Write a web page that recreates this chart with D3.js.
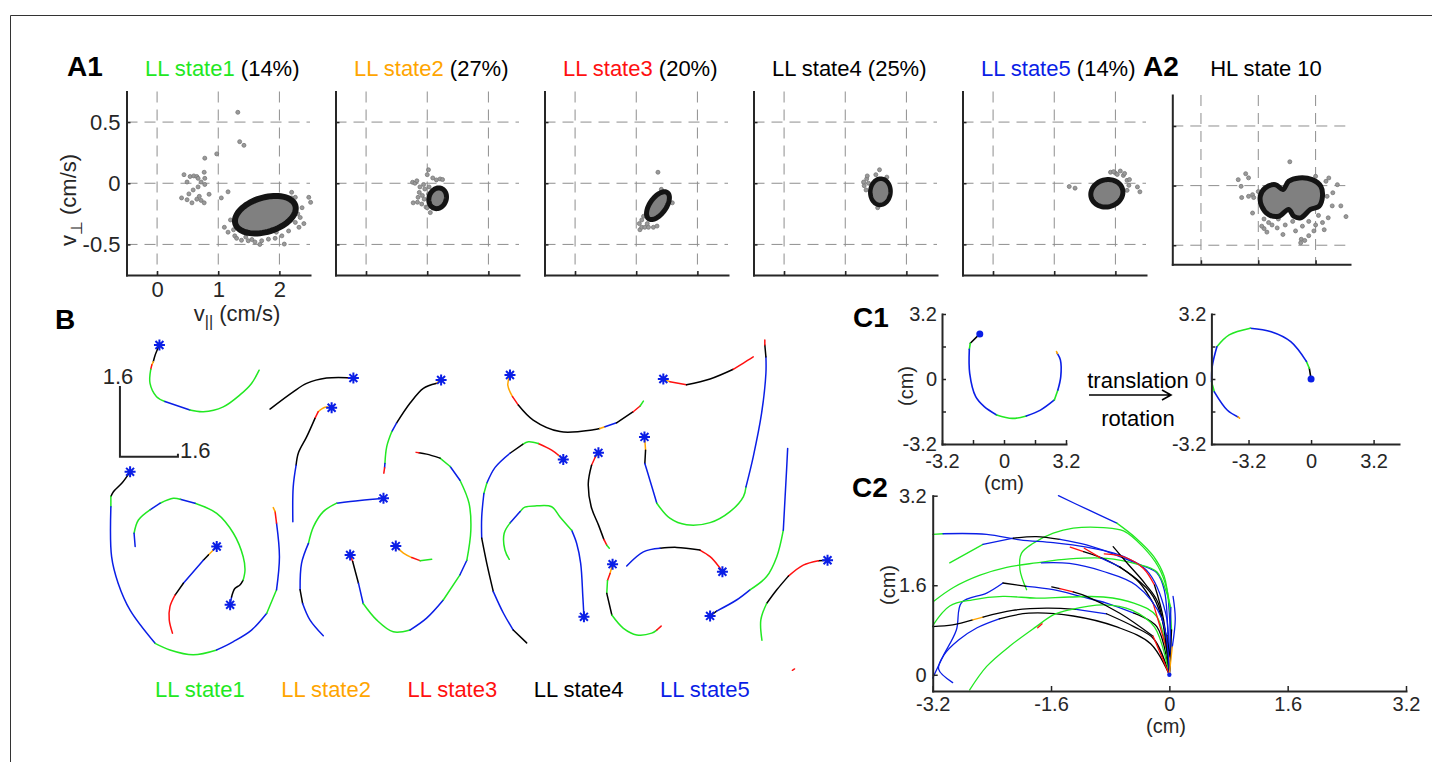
<!DOCTYPE html>
<html>
<head>
<meta charset="utf-8">
<script src="https://cdn.jsdelivr.net/npm/d3@7"></script>
<style>
  body { margin: 0; background: #fff; }
</style>
</head>
<body>
<svg id="chart" width="1432" height="762"></svg>
<script>
// ---------- data ----------
const STATES = ['LL state1', 'LL state2', 'LL state3', 'LL state4', 'LL state5'];
const STATE_PCT = [14, 27, 20, 25, 14];
const HL_TITLE = 'HL state 10';

const A_TICKS_X = [0, 1, 2];
const A_TICKS_Y = [-0.5, 0, 0.5];
const C1_TICKS = [-3.2, -1.6, 0, 1.6, 3.2];
const C1_LABELS = [-3.2, 0, 3.2];
const C2_TICKS_X = [-3.2, -1.6, 0, 1.6, 3.2];
const C2_TICKS_Y = [0, 1.6, 3.2];
const SCALE_BAR = 1.6;

// velocity scatter per LL state (v_par, v_perp in cm/s)
const s1Pts = [[1.32,0.58],[1.35,0.34],[1.42,0.31],[0.975,0.24],[0.78,0.205],[0.44,0.07],[0.54,0.055],[0.60,0.06],[0.65,0.055],[0.49,0.01],[0.67,0.04],[0.77,0.09],[0.78,0.04],[0.72,0.01],[0.78,-0.01],[0.85,-0.09],[0.67,-0.03],[0.59,-0.055],[0.52,-0.087],[0.40,-0.12],[0.49,-0.135],[0.57,-0.16],[0.65,-0.13],[0.69,-0.107],[0.72,-0.14],[0.77,-0.16],[1.05,-0.12],[1.16,-0.07],
  [1.10,-0.36],[1.16,-0.40],[1.27,-0.43],[1.38,-0.466],[1.49,-0.47],[1.60,-0.48],[1.71,-0.47],[1.82,-0.457],[1.93,-0.45],[2.04,-0.43],[2.15,-0.39],[2.26,-0.32],[2.34,-0.28],[2.37,-0.20],[2.48,-0.115],[2.51,-0.156],[2.40,-0.33],[2.32,-0.36],[2.26,-0.115],[2.20,-0.074],[2.08,-0.497],[1.68,-0.50],[1.20,-0.30],[1.25,-0.38],[1.45,-0.44],[1.95,-0.40],[2.30,-0.25],[2.20,-0.12],[1.30,-0.45],[1.55,-0.46]];
const s2Pts = [[1.02,0.11],[1.0,0.07],[0.76,0.008],[0.80,0.0],[0.83,0.02],[0.88,-0.03],[0.94,-0.01],[0.87,-0.075],[0.85,-0.115],[0.77,-0.16],[0.84,-0.155],[0.91,-0.17],[0.98,-0.195],[1.05,-0.24],[1.09,0.043],[1.15,0.027],[1.21,0.035],[1.25,0.03],[0.96,-0.047],[1.02,-0.088],[0.95,-0.13],[1.0,-0.2],[0.92,-0.1],[1.03,-0.03]];
const s3Pts = [[1.355,0.09],[1.06,-0.38],[1.09,-0.36],[1.14,-0.36],[1.20,-0.36],[1.28,-0.36],[1.34,-0.35],[1.09,-0.30],[1.12,-0.27],[1.41,-0.05],[1.45,-0.12],[1.59,-0.16],[1.18,-0.33],[1.05,-0.33]];
const s4Pts = [[1.56,0.11],[1.35,0.036],[1.31,-0.02],[1.34,-0.055],[1.30,0.01],[1.36,0.06],[1.53,-0.2],[1.68,0.05],[1.38,0.0],[1.50,0.07]];
const s5Pts = [[1.245,-0.027],[1.34,-0.04],[1.92,0.09],[2.0,0.083],[2.08,0.1],[2.13,0.064],[2.19,0.024],[2.22,-0.017],[2.19,-0.058],[2.03,0.072],[2.36,-0.03],[2.40,-0.07],[2.15,0.08],[2.23,0.03],[1.97,0.095]];
const hlPts = [[1.55,0.2],[0.78,0.1],[0.83,0.065],[0.65,0.05],[0.70,-0.006],[0.90,-0.076],[0.83,-0.09],[0.92,-0.1],[0.71,-0.1],[0.90,-0.23],[1.10,-0.36],[1.15,-0.39],[1.24,-0.33],[1.43,-0.41],[1.65,-0.38],[1.75,-0.45],[1.74,-0.48],[1.81,-0.46],[1.88,-0.42],[1.97,-0.38],[2.15,-0.37],[2.12,-0.31],[2.22,-0.27],[2.29,-0.17],[2.38,0.008],[2.23,0.064],[2.20,-0.09],[2.53,-0.26],[2.44,-0.17],[2.30,-0.06],[2.0,0.078],[2.18,0.036],[1.06,-0.34],[1.18,-0.31],[1.33,-0.355],[1.47,-0.33],[1.77,-0.34],[1.88,-0.3],[2.0,-0.33],[1.0,-0.05],[1.1,-0.28],[1.6,-0.3],[2.05,-0.25],[1.35,-0.28]];

// Gaussian ellipse of each LL state: centre, major and minor half-axis vectors
const ellC = [[1.77,-0.257],[1.17,-0.123],[1.355,-0.183],[1.575,-0.07],[1.86,-0.082]];
const ellU = [[0.49,0.075],[0.059,0.081],[0.152,0.107],[0.017,0.107],[0.256,0.034]];
const ellV = [[0.083,-0.134],[0.132,-0.024],[0.109,-0.038],[0.165,-0.007],[0.058,-0.107]];
// contour of HL state 10
const hlBlob = [[1.035,-0.09],[1.12,-0.02],[1.30,0.008],[1.43,-0.033],[1.53,0.036],[1.71,0.064],[1.94,0.05],[2.09,-0.006],[2.12,-0.09],[2.06,-0.173],[1.91,-0.2],[1.74,-0.27],[1.62,-0.257],[1.53,-0.2],[1.36,-0.257],[1.18,-0.243],[1.06,-0.173]];

// B: trajectories in cm, [x, y, state of segment starting here]; first point = start (*)
const bTraj = [
  [[1.64,7.58,4],[1.52,7.35,4],[1.47,7.20,2],[1.43,7.13,3],[1.40,7.03,1],[1.38,6.71,1],[1.56,6.41,1],[1.79,6.30,5],[2.48,6.11,1],[2.85,6.07,1],[3.40,6.18,1],[3.86,6.45,1],[4.18,6.71,1],[4.39,7.01,1]],
  [[6.99,6.83,3],[6.82,6.84,4],[6.25,6.83,4],[5.70,6.71,4],[5.33,6.52,4],[4.69,6.13,4]],
  [[6.39,6.16,2],[6.21,6.17,2],[6.02,6.07,3],[5.93,5.92,4],[5.70,5.50,4],[5.47,5.13,4],[5.41,4.86,5],[5.33,4.37,5],[5.32,3.58,5]],
  [[9.41,6.79,2],[9.27,6.71,4],[8.92,6.60,4],[8.55,6.26,4],[8.18,5.81,5],[8.05,5.62,1],[7.91,5.28,1],[7.86,4.90,5],[7.85,4.80,3],[7.83,4.68,3]],
  [[0.83,4.71,4],[0.60,4.45,4],[0.37,4.26,4],[0.30,4.15,1],[0.30,3.92,5],[0.32,2.79,5],[0.50,2.19,5],[0.83,1.58,5],[1.52,0.83,1],[1.93,0.68,1],[2.57,0.57,1],[3.22,0.68,5],[3.68,0.87,5],[4.18,1.13,5],[4.60,1.51,1],[4.87,2.04,5],[4.95,2.79,5],[4.87,3.55,3],[4.83,3.81,2],[4.78,3.90,2]],
  [[3.59,1.70,5],[3.63,1.88,4],[3.72,2.07,4],[3.86,2.15,4],[3.95,2.26,1],[4.0,2.49,1],[3.95,2.79,1],[3.68,3.32,1],[3.22,3.77,1],[2.62,4.0,5],[2.21,4.09,1],[2.02,4.11,1],[1.66,4.0,5],[1.38,3.85,1],[1.06,3.62,1],[0.94,3.32,5],[0.97,3.02,5]],
  [[3.22,3.02,2],[2.99,2.83,4],[2.85,2.71,5],[2.30,2.19,4],[2.07,1.92,3],[1.93,1.66,3],[1.91,1.36,3],[2.0,1.06,3]],
  [[7.82,4.11,5],[7.17,4.06,5],[6.53,4.0,1],[6.16,3.81,1],[5.89,3.47,1],[5.75,3.09,5],[5.56,2.64,5],[5.52,2.04,4],[5.59,1.73,5],[5.79,1.36,5],[6.16,1.0,5]],
  [[6.90,2.83,3],[6.97,2.68,4],[7.13,2.19,5],[7.26,1.73,1],[7.63,1.36,1],[8.09,1.09,1],[8.55,1.13,5],[9.01,1.40,5],[9.47,1.81,1],[9.93,2.38,5],[10.12,2.71,1],[10.23,3.39,1],[10.18,4.0,1],[9.93,4.52,5],[9.66,4.83,1],[9.38,5.02,4],[9.01,5.11,4],[8.80,5.14,3],[8.72,5.15,3]],
  [[8.16,3.03,2],[8.37,2.87,2],[8.60,2.77,3],[8.83,2.70,1],[9.15,2.73,1]],
  [[11.31,6.90,2],[11.25,6.67,2],[11.38,6.41,3],[11.54,6.22,4],[11.95,5.88,4],[12.69,5.62,4],[13.61,5.66,4],[13.79,5.69,2],[13.93,5.73,5],[14.25,5.82,4],[14.71,6.07,3],[14.90,6.20,1],[14.99,6.31,1]],
  [[15.54,6.81,2],[15.72,6.75,3],[16.18,6.68,4],[16.83,6.81,4],[17.47,7.03,3],[17.75,7.17,3],[18.02,7.31,3]],
  [[15.02,5.50,2],[15.04,5.32,2],[15.05,5.20,4],[15.03,4.90,5],[15.17,4.52,5],[15.36,4.0,1],[15.72,3.66,1],[16.18,3.51,1],[16.83,3.56,1],[17.38,3.81,1],[17.75,4.15,1],[17.82,4.37,5],[18.02,5.05,5],[18.25,6.03,5],[18.37,6.94,5],[18.37,7.31,4],[18.34,7.58,3],[18.34,7.69,3]],
  [[12.78,4.99,2],[12.64,5.09,3],[12.46,5.20,3],[12.09,5.35,1],[11.82,5.39,1],[11.66,5.33,4],[11.31,5.13,5],[10.90,4.81,5],[10.67,4.45,1],[10.59,4.22,5],[10.53,3.69,5],[10.53,3.21,4],[10.67,2.64,4],[10.85,2.0,5],[11.13,1.51,5],[11.40,1.13,4],[11.77,0.84,4]],
  [[13.35,1.43,5],[13.32,1.88,5],[13.26,2.64,5],[13.15,3.09,5],[13.01,3.39,1],[12.69,3.69,1],[12.46,3.92,1],[12.05,3.94,1],[11.72,3.91,1],[11.59,3.81,5],[11.31,3.55,1],[11.15,3.32,1],[11.17,2.94,1],[11.29,2.73,1]],
  [[13.75,5.14,2],[13.66,5.04,3],[13.56,4.86,4],[13.47,4.45,4],[13.55,3.92,4],[13.75,3.51,4],[13.90,3.18,3],[13.98,3.05,1],[14.05,2.98,1]],
  [[14.14,2.62,2],[14.07,2.41,3],[14.00,2.25,1],[13.98,1.96,4],[14.12,1.47,1],[14.44,1.17,1],[14.81,1.02,1],[15.22,1.06,1],[15.36,1.13,3],[15.48,1.22,3]],
  [[17.17,2.45,3],[17.06,2.58,3],[16.83,2.79,3],[16.55,2.94,4],[15.91,3.0,4],[15.45,2.98,5],[14.99,2.90,5],[14.53,2.58,5]],
  [[16.83,1.45,4],[17.01,1.56,5],[17.56,1.81,5],[17.93,2.04,1],[18.39,2.34,1],[18.67,2.79,1],[18.85,3.39,5],[18.90,4.15,5],[18.94,4.75,5],[18.97,5.24,5]],
  [[20.07,2.71,4],[19.82,2.70,3],[19.40,2.60,3],[18.99,2.35,4],[18.67,2.04,4],[18.39,1.73,1],[18.23,1.36,1],[18.26,0.90,1]]
];
const bStray = [[19.10,0.22,3],[19.16,0.25,3]];

// C1: one trajectory before and after translation + rotation (cm)
const c1Before = [[-1.25,2.22,4],[-1.74,1.76,1],[-1.79,1.46,5],[-1.77,0.28,5],[-1.46,-0.87,5],[-1.02,-1.36,5],[-0.38,-1.77,1],[0.43,-1.94,1],[1.15,-1.82,5],[1.88,-1.53,5],[2.60,-1.03,1],[2.78,-0.54,5],[2.93,0.12,5],[2.91,0.94,5],[2.75,1.26,2],[2.71,1.35,2]];
const c1After = [[0,0,4],[-0.09,0.53,1],[-0.24,0.87,5],[-1.04,1.84,5],[-2.04,2.33,5],[-3.11,2.50,1],[-4.19,2.17,1],[-4.82,1.59,5],[-5.06,0.61,5],[-5.09,-0.14,1],[-4.95,-0.63,5],[-4.28,-1.54,5],[-3.74,-1.87,2],[-3.66,-1.93,2]];

// C2: all aligned trajectories, ending at the origin (cm)
const c2Traj = [
  [[-1.50,3.20,5],[-1.10,2.95,5],[-0.71,2.71,1],[-0.45,2.44,1],[-0.21,2.11,1],[-0.07,1.76,1],[-0.01,1.28,5],[0.02,0.5,5],[0,0,5]],
  [[-1.93,1.52,1],[-2.02,1.88,1],[-2.0,2.17,1],[-1.84,2.35,1],[-1.57,2.53,1],[-1.30,2.62,1],[-0.89,2.63,1],[-0.62,2.57,1],[-0.36,2.29,1],[-0.15,1.93,1],[-0.03,1.51,1],[0.03,0.8,4],[0,0,4]],
  [[-3.20,2.51,1],[-3.06,2.52,5],[-2.47,2.51,5],[-2.02,2.41,5],[-1.57,2.36,5],[-1.12,2.28,5],[-0.67,2.14,5],[-0.40,1.97,5],[-0.17,1.82,5],[-0.07,1.52,5],[-0.02,0.7,4],[0,0,4]],
  [[-2.97,2.0,1],[-2.52,2.33,5],[-2.11,2.44,4],[-1.80,2.47,4],[-1.48,2.42,5],[-1.12,2.32,5],[-0.67,2.11,5],[-0.31,1.87,5],[-0.05,1.1,5],[0,0,5]],
  [[-3.19,1.31,1],[-2.92,1.56,1],[-2.56,1.78,1],[-2.20,1.92,1],[-1.80,2.0,1],[-1.35,2.07,1],[-0.85,2.08,1],[-0.45,1.98,1],[-0.17,1.84,1],[0.02,1.2,5],[0,0,5]],
  [[-3.2,-0.06,5],[-3.06,0.33,5],[-2.88,0.8,5],[-2.81,1.29,5],[-2.47,1.46,5],[-2.25,1.64,4],[-1.93,1.58,5],[-1.57,1.52,5],[-1.20,1.40,5],[-0.85,1.28,5],[-0.48,1.10,4],[-0.17,0.86,4],[0,0,4]],
  [[-3.20,0.88,1],[-2.97,1.23,1],[-2.66,1.34,1],[-2.25,1.40,1],[-1.80,1.37,1],[-1.35,1.39,1],[-0.89,1.39,1],[-0.48,1.28,1],[-0.17,1.04,1],[0,0,1]],
  [[-3.20,0.86,4],[-2.93,0.89,4],[-2.66,0.98,2],[-2.52,1.03,4],[-2.12,1.15,4],[-1.66,1.19,4],[-1.26,1.17,5],[-0.85,1.09,4],[-0.48,0.86,4],[-0.21,0.64,4],[0,0,4]],
  [[-2.93,-0.14,5],[-3.12,0.1,5],[-3.05,0.35,5],[-2.85,0.62,5],[-2.6,0.84,5],[-2.3,1.0,4],[-1.9,1.1,4],[-1.3,1.05,4],[-0.7,0.85,4],[-0.25,0.55,4],[0,0,4]],
  [[-2.70,-0.27,1],[-2.47,0.15,1],[-2.16,0.51,1],[-1.80,0.86,1],[-1.57,1.07,1],[-1.35,1.16,1],[-0.89,1.25,1],[-0.50,1.15,1],[-0.2,0.85,1],[0,0,1]],
  [[-1.34,2.28,3],[-1.16,2.20,4],[-0.85,2.05,4],[-0.49,1.76,4],[-0.22,1.40,4],[0,0.4,4],[0,0,4]],
  [[-1.15,2.26,3],[-0.93,2.09,5],[-0.67,1.93,4],[-0.40,1.64,4],[-0.22,1.28,3],[0,0.3,2],[0,0,2]],
  [[-0.76,2.29,4],[-0.56,1.98,4],[-0.33,1.63,4],[-0.15,1.28,4],[0,0,4]],
  [[-0.88,2.16,3],[-0.6,2.1,3],[-0.35,1.9,3],[-0.2,1.6,4],[-0.08,1.0,4],[0,0,4]],
  [[-1.59,1.57,4],[-1.48,1.54,3],[-1.30,1.48,4],[-1.12,1.40,4],[-0.67,1.10,4],[-0.22,0.69,3],[0,0,3]],
  [[-1.73,2.0,5],[-1.35,1.99,5],[-0.9,1.85,5],[-0.45,1.6,5],[-0.1,1.0,5],[0,0,5]],
  [[-1.78,0.84,3],[-1.72,0.91,3]],
  [[0.05,1.4,5],[0.08,1.0,5],[0.04,0.5,2],[0,0,2]]
];

// ---------- style ----------
const FONT = '"Liberation Sans", Arial, Helvetica, sans-serif';
const INK = '#262626';
const stateColor = ['#22e822', '#ffa500', '#ff1010', '#000000', '#0a1ee6'];
const colorOf = s => stateColor[s - 1];

const svg = d3.select('#chart');

// outer frame (top and left edge)
svg.append('path').attr('d', 'M10.5,762V15.5H1432')
  .attr('fill', 'none').attr('stroke', '#333').attr('stroke-width', 1);

// ---------- helpers ----------
function addAxes(x, y, o) {
  const fmt = list => d => (list && list.includes(d) ? String(d) : '');
  const gx = svg.append('g').attr('transform', `translate(0,${y.range()[0]})`)
    .call(d3.axisBottom(x).tickValues(o.xt).tickSize(-o.ts).tickSizeOuter(0).tickPadding(o.px).tickFormat(fmt(o.xl)));
  const gy = svg.append('g').attr('transform', `translate(${x.range()[0]},0)`)
    .call(d3.axisLeft(y).tickValues(o.yt).tickSize(-o.ts).tickSizeOuter(0).tickPadding(o.py).tickFormat(fmt(o.yl)));
  [gx, gy].forEach(g => {
    g.attr('font-family', FONT).attr('font-size', o.fs);
    g.select('.domain').attr('stroke', INK).attr('stroke-width', 2).attr('stroke-linecap', 'square');
    g.selectAll('.tick line').attr('stroke', INK).attr('stroke-width', 1.5);
    g.selectAll('.tick text').attr('fill', INK);
  });
}

function drawRuns(g, x, y, pts, w) {
  // split a trajectory into same-state runs that share their end points
  const runs = [];
  for (let i = 0; i < pts.length - 1; i++) {
    const last = runs[runs.length - 1];
    if (last && last.s === pts[i][2]) last.pts.push(pts[i + 1]);
    else runs.push({ s: pts[i][2], pts: [pts[i], pts[i + 1]] });
  }
  const line = d3.line().x(d => x(d[0])).y(d => y(d[1])).curve(d3.curveCatmullRom.alpha(0.5));
  g.selectAll(null).data(runs).enter().append('path')
    .attr('d', r => line(r.pts))
    .attr('fill', 'none')
    .attr('stroke', r => colorOf(r.s))
    .attr('stroke-width', w)
    .attr('stroke-linecap', 'round')
    .attr('stroke-linejoin', 'round');
}

function label(txt, x, y, size, opts = {}) {
  return svg.append('text').attr('x', x).attr('y', y)
    .attr('font-family', FONT).attr('font-size', size)
    .attr('font-weight', opts.bold ? 'bold' : null)
    .attr('text-anchor', opts.anchor || 'start')
    .attr('fill', opts.fill || '#000')
    .text(txt);
}

// ---------- A1 / A2 : velocity scatter panels ----------
const A_DOM_X = [-0.5, 2.5], A_DOM_Y = [-0.75, 0.75];
const aLeft = d3.scaleLinear().domain([0, 4]).range([126.5, 962.5]);
const aWidth = 183.5, aTop = 91.5, aBottom = 275;
const scatter = [s1Pts, s2Pts, s3Pts, s4Pts, s5Pts];
const ringW = [6, 5, 5, 4.5, 5];

function scatterPanel(x, y, pts, shapeD, rw, withLabels) {
  const g = svg.append('g');
  // dashed grid
  g.selectAll(null).data(A_TICKS_X).enter().append('line')
    .attr('x1', d => x(d)).attr('x2', d => x(d))
    .attr('y1', y.range()[1]).attr('y2', y.range()[0]);
  g.selectAll(null).data(A_TICKS_Y).enter().append('line')
    .attr('y1', d => y(d)).attr('y2', d => y(d))
    .attr('x1', x.range()[0]).attr('x2', x.range()[1]);
  g.selectAll('line').attr('stroke', '#8e8e8e').attr('stroke-width', 1).attr('stroke-dasharray', '11,7');
  // points
  g.selectAll(null).data(pts).enter().append('circle')
    .attr('cx', d => x(d[0])).attr('cy', d => y(d[1])).attr('r', 2)
    .attr('fill', '#9a9a9a').attr('stroke', '#777').attr('stroke-width', 0.8);
  // state contour
  g.append('path').attr('d', shapeD)
    .attr('fill', '#808080').attr('stroke', '#141414').attr('stroke-width', rw);
  addAxes(x, y, {
    xt: A_TICKS_X, yt: A_TICKS_Y, ts: 4, px: 6, py: 6, fs: 22,
    xl: withLabels ? A_TICKS_X : null, yl: withLabels ? A_TICKS_Y : null
  });
}

STATES.forEach((name, i) => {
  const x = d3.scaleLinear().domain(A_DOM_X).range([aLeft(i), aLeft(i) + aWidth]);
  const y = d3.scaleLinear().domain(A_DOM_Y).range([aBottom, aTop]);
  const c = ellC[i], u = ellU[i], v = ellV[i];
  const ring = d3.range(0, 73).map(k => {
    const t = k / 72 * 2 * Math.PI;
    return [x(c[0] + Math.cos(t) * u[0] + Math.sin(t) * v[0]), y(c[1] + Math.cos(t) * u[1] + Math.sin(t) * v[1])];
  });
  scatterPanel(x, y, scatter[i], d3.line()(ring) + 'Z', ringW[i], i === 0);

  const t = svg.append('text').attr('x', aLeft(i) + aWidth / 2 + 4).attr('y', 76)
    .attr('text-anchor', 'middle').attr('font-family', FONT).attr('font-size', 22);
  t.append('tspan').attr('fill', colorOf(i + 1)).text(name);
  t.append('tspan').attr('fill', '#000').text(` (${STATE_PCT[i]}%)`);
});

// A2 (HL state)
{
  const x = d3.scaleLinear().domain([-0.5, 2.6]).range([1172.3, 1350]);
  const y = d3.scaleLinear().domain([-0.66, 0.76]).range([264.3, 95]);
  const blob = d3.line().x(d => x(d[0])).y(d => y(d[1])).curve(d3.curveCatmullRomClosed)(hlBlob);
  scatterPanel(x, y, hlPts, blob, 5, false);
  label(HL_TITLE, 1266, 76, 22, { anchor: 'middle' });
}

label('A1', 67, 76, 28, { bold: true });
label('A2', 1143, 76, 28, { bold: true });

// axis labels of the first panel
const xl = svg.append('text').attr('x', 237).attr('y', 321).attr('text-anchor', 'middle')
  .attr('font-family', FONT).attr('font-size', 22).attr('fill', INK);
xl.append('tspan').text('v');
xl.append('tspan').attr('font-size', 16).attr('dy', 6).text('||');
xl.append('tspan').attr('dy', -6).text('  (cm/s)');

const yl = svg.append('text').attr('transform', 'translate(76,200) rotate(-90)').attr('text-anchor', 'middle')
  .attr('font-family', FONT).attr('font-size', 22).attr('fill', INK);
yl.append('tspan').text('v');
yl.append('tspan').attr('font-size', 16).attr('dy', 6).text('⊥');
yl.append('tspan').attr('dy', -6).text('  (cm/s)');

// ---------- B : trajectories ----------
const bx = d3.scaleLinear().domain([0, 21]).range([100, 100 + 21 * 36.25]);
const by = d3.scaleLinear().domain([0, 8]).range([680, 680 - 8 * 44.2]);
const gB = svg.append('g');
bTraj.forEach(tr => drawRuns(gB, bx, by, tr, 1.5));
drawRuns(gB, bx, by, bStray, 1.5);

const star = (() => {
  const r = 5.5, d = r * 0.72;
  return `M0,${-r}V${r}M${-r},0H${r}M${-d},${-d}L${d},${d}M${-d},${d}L${d},${-d}`;
})();
gB.selectAll(null).data(bTraj).enter().append('path')
  .attr('d', star)
  .attr('transform', tr => `translate(${bx(tr[0][0])},${by(tr[0][1])})`)
  .attr('fill', 'none').attr('stroke', '#0a1ee6').attr('stroke-width', 2);

// scale bar
const sb0 = [0.55, 5.05];
svg.append('path')
  .attr('d', `M${bx(sb0[0])},${by(sb0[1] + SCALE_BAR)}V${by(sb0[1])}H${bx(sb0[0] + SCALE_BAR)}v-3`)
  .attr('fill', 'none').attr('stroke', INK).attr('stroke-width', 2);
label(String(SCALE_BAR), bx(sb0[0]) - 2, by(sb0[1] + SCALE_BAR) - 2, 22, { anchor: 'middle', fill: INK });
label(String(SCALE_BAR), bx(sb0[0] + SCALE_BAR) + 2, by(sb0[1]) + 1, 22, { fill: INK });

label('B', 55, 329, 28, { bold: true });

// legend
const legX = d3.scalePoint().domain(STATES).range([155, 660]);
svg.selectAll(null).data(STATES).enter().append('text')
  .attr('x', d => legX(d)).attr('y', 697)
  .attr('font-family', FONT).attr('font-size', 22)
  .attr('fill', (d, i) => colorOf(i + 1))
  .text(d => d);

// ---------- C1 ----------
const cy1 = d3.scaleLinear().domain([-3.2, 3.2]).range([444, 314]);
const cxL = d3.scaleLinear().domain([-3.2, 3.2]).range([942, 1066]);
const cxR = d3.scaleLinear().domain([-5.1, 4.5]).range([1211.4, 1399]);

const gC1 = svg.append('g');
drawRuns(gC1, cxL, cy1, c1Before, 1.6);
drawRuns(gC1, cxR, cy1, c1After, 1.6);
gC1.append('circle').attr('cx', cxL(c1Before[0][0])).attr('cy', cy1(c1Before[0][1])).attr('r', 3.5).attr('fill', '#0a1ee6');
gC1.append('circle').attr('cx', cxR(c1After[0][0])).attr('cy', cy1(c1After[0][1])).attr('r', 3.5).attr('fill', '#0a1ee6');

addAxes(cxL, cy1, { xt: C1_TICKS, yt: C1_TICKS, xl: C1_LABELS, yl: C1_LABELS, ts: 4, px: 10, py: 5, fs: 20 });
addAxes(cxR, cy1, { xt: C1_LABELS, yt: C1_TICKS, xl: C1_LABELS, yl: C1_LABELS, ts: 4, px: 10, py: 5, fs: 20 });

label('C1', 853, 327, 28, { bold: true });
svg.append('text').attr('transform', 'translate(913,386) rotate(-90)').attr('text-anchor', 'middle')
  .attr('font-family', FONT).attr('font-size', 20).attr('fill', INK).text('(cm)');
label('(cm)', 1004, 490, 20, { anchor: 'middle', fill: INK });

// arrow
svg.append('path').attr('d', 'M1089,395H1171M1162,390L1171,395L1162,400')
  .attr('fill', 'none').attr('stroke', '#000').attr('stroke-width', 1.6);
label('translation', 1138, 388, 22, { anchor: 'middle' });
label('rotation', 1138, 426, 22, { anchor: 'middle' });

// ---------- C2 ----------
const c2x = d3.scaleLinear().domain([-3.2, 3.2]).range([932.7, 1406]);
const c2y = d3.scaleLinear().domain([-0.29, 3.2]).range([691, 495.7]);
const gC2 = svg.append('g');
c2Traj.forEach(tr => drawRuns(gC2, c2x, c2y, tr, 1.3));
gC2.append('circle').attr('cx', c2x(0)).attr('cy', c2y(0)).attr('r', 2.2).attr('fill', '#0a1ee6');

addAxes(c2x, c2y, { xt: C2_TICKS_X, yt: C2_TICKS_Y, xl: C2_TICKS_X, yl: C2_TICKS_Y, ts: 5, px: 6, py: 6, fs: 20 });

label('C2', 852, 497, 28, { bold: true });
svg.append('text').attr('transform', 'translate(895,585) rotate(-90)').attr('text-anchor', 'middle')
  .attr('font-family', FONT).attr('font-size', 20).attr('fill', INK).text('(cm)');
label('(cm)', 1166, 733, 20, { anchor: 'middle', fill: INK });
</script>
</body>
</html>
